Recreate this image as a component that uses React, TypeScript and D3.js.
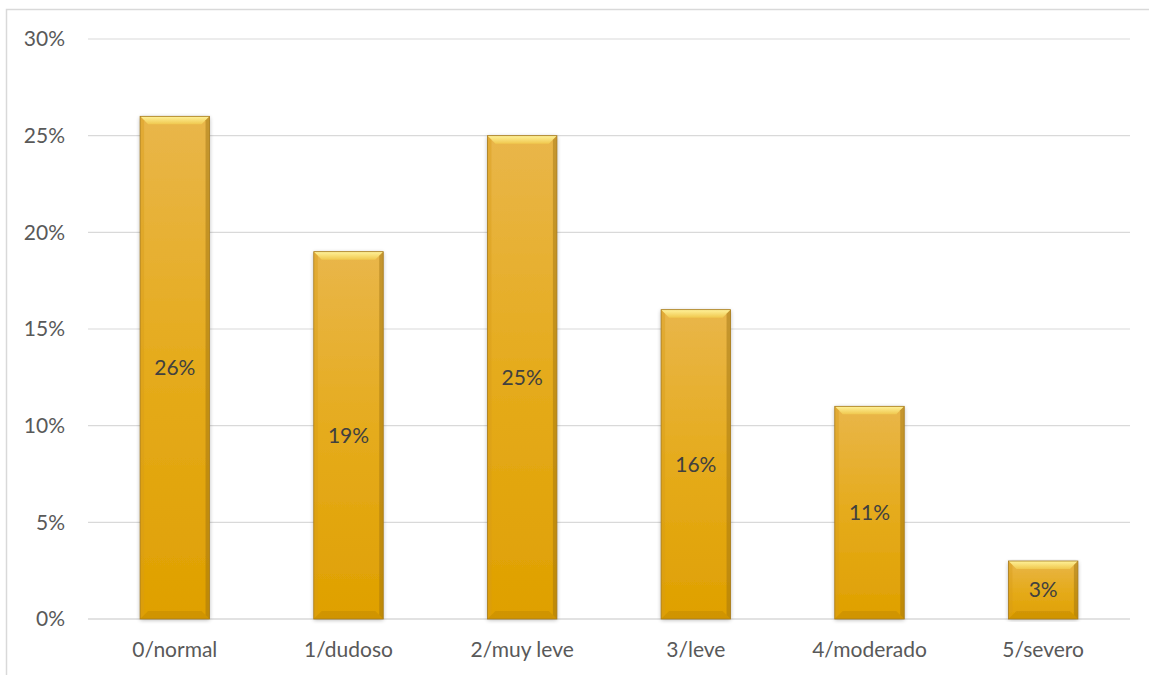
import React from "react";
import * as d3 from "d3";

const categories = ["0/normal", "1/dudoso", "2/muy leve", "3/leve", "4/moderado", "5/severo"];
const values = [0.26, 0.19, 0.25, 0.16, 0.11, 0.03];
const yTicks = [0, 0.05, 0.1, 0.15, 0.2, 0.25, 0.3];

const W = 1149;
const H = 675;
const M = { left: 88, right: 19, top: 39, bottom: 56 };

export default function App() {
  const x = d3
    .scaleBand<string>()
    .domain(categories)
    .range([M.left, W - M.right])
    .paddingInner(0.6)
    .paddingOuter(0.3);
  const y = d3.scaleLinear().domain([0, 0.3]).range([H - M.bottom, M.top]);
  const fmt = d3.format(".0%");
  const font = "Lato, 'Open Sans', sans-serif";
  const fs = 21;
  const bev = 8;

  return (
    <svg
      width={W}
      height={H}
      style={{ position: "absolute", left: 0, top: 0, background: "#fff" }}
    >
      <defs>
        <linearGradient id="barFill" x1="0" y1="0" x2="0" y2="1">
          <stop offset="0" stopColor="#E9B64A" />
          <stop offset="0.5" stopColor="#E5AB1C" />
          <stop offset="1" stopColor="#DFA000" />
        </linearGradient>
        <linearGradient id="topBev" x1="0" y1="0" x2="0" y2="1">
          <stop offset="0" stopColor="#FFF29A" />
          <stop offset="1" stopColor="#F0C84E" />
        </linearGradient>
        <filter id="shadow" x="-20%" y="-5%" width="140%" height="110%">
          <feGaussianBlur in="SourceAlpha" stdDeviation="2" />
          <feOffset dx="0" dy="1" result="b" />
          <feComponentTransfer>
            <feFuncA type="linear" slope="0.3" />
          </feComponentTransfer>
          <feMerge>
            <feMergeNode />
            <feMergeNode in="SourceGraphic" />
          </feMerge>
        </filter>
      </defs>
      <rect x={6.5} y={9.5} width={W} height={H} fill="none" stroke="#D9D9D9" strokeWidth={1.5} />
      {yTicks.map((t) => (
        <g key={t}>
          <line x1={M.left} x2={W - M.right} y1={y(t)} y2={y(t)} stroke="#D9D9D9" strokeWidth={t === 0 ? 1.5 : 1.2} />
          <text
            x={M.left - 23}
            y={y(t)}
            dy="0.35em"
            textAnchor="end"
            fontFamily={font}
            fontSize={fs}
            fill="#595959"
          >
            {fmt(t)}
          </text>
        </g>
      ))}
      {categories.map((c, i) => {
        const x0 = x(c)!;
        const bw = x.bandwidth();
        const x1 = x0 + bw;
        const yt = y(values[i]);
        const yb = y(0);
        const b = Math.min(bev, (yb - yt) / 2);
        return (
          <g key={c}>
            <rect x={x0} y={yt} width={bw} height={yb - yt} fill="url(#barFill)" filter="url(#shadow)" />
            <polygon
              points={`${x0},${yt} ${x1},${yt} ${x1 - b},${yt + b} ${x0 + b},${yt + b}`}
              fill="url(#topBev)"
            />
            <polygon
              points={`${x0},${yt} ${x0 + b * 0.5},${yt + b * 0.5} ${x0 + b * 0.5},${yb - b * 0.5} ${x0},${yb}`}
              fill="#D79A1A"
              opacity={0.4}
            />
            <polygon
              points={`${x1},${yt} ${x1 - b * 0.5},${yt + b * 0.5} ${x1 - b * 0.5},${yb - b * 0.5} ${x1},${yb}`}
              fill="#9A6E10"
              opacity={0.45}
            />
            <polygon
              points={`${x0},${yb} ${x1},${yb} ${x1 - b},${yb - b} ${x0 + b},${yb - b}`}
              fill="#B47F00"
              opacity={0.35}
            />
            <rect x={x0} y={yt} width={bw} height={yb - yt} fill="none" stroke="#A67A1C" strokeWidth={0.8} />
            <text
              x={x0 + bw / 2}
              y={(yt + yb) / 2}
              dy="0.35em"
              textAnchor="middle"
              fontFamily={font}
              fontSize={fs}
              fill="#404040"
            >
              {fmt(values[i])}
            </text>
            <text
              x={x0 + bw / 2}
              y={yb + 31}
              dy="0.35em"
              textAnchor="middle"
              fontFamily={font}
              fontSize={fs}
              fill="#595959"
            >
              {c}
            </text>
          </g>
        );
      })}
    </svg>
  );
}
